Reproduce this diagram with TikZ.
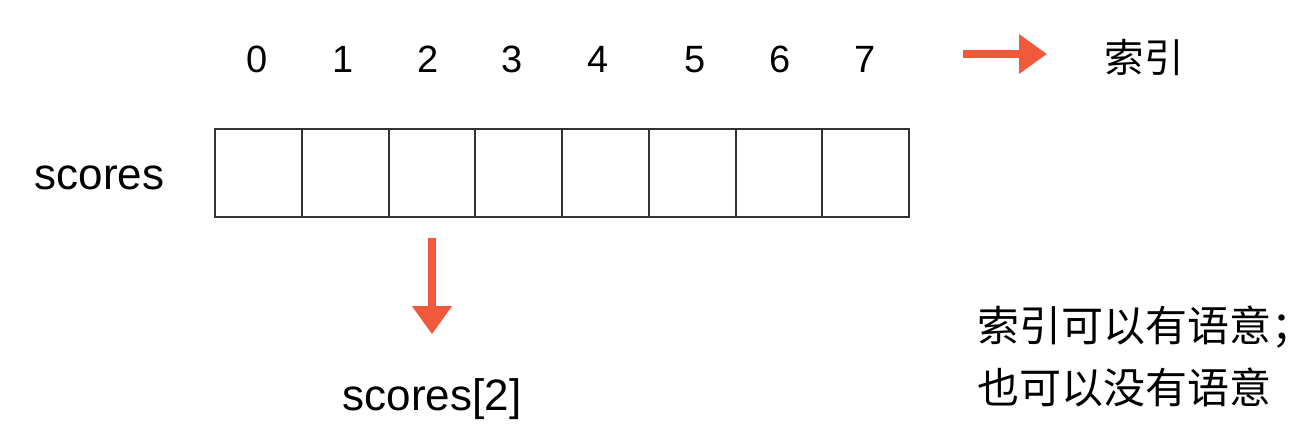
\documentclass[tikz,border=0pt]{standalone}
\usepackage{fontspec}
\setmainfont{Liberation Sans}
\newfontfamily\cjk{Noto Sans CJK SC}
\usetikzlibrary{arrows.meta, positioning}
\definecolor{arrowRed}{RGB}{241,89,60}

\begin{document}
\begin{tikzpicture}[x=0.5pt, y=-0.5pt]
	\tikzstyle{cell} = [rectangle, minimum width=43.375pt, minimum height=44pt, 
	draw=black!80, line width=1pt, outer sep=0pt, inner sep=0pt]
	\tikzstyle{idx} = [font=\fontsize{19pt}{23pt}\selectfont, anchor=base, inner sep=0pt]
	\tikzstyle{nameText} = [font=\fontsize{22pt}{26pt}\selectfont, anchor=base, inner sep=0pt]
	\tikzstyle{cjkText} = [font=\cjk\fontsize{19.75pt}{31pt}\selectfont, inner sep=0pt]
	\tikzstyle{arrow} = [line width=3.8pt, draw=arrowRed, -{Triangle[length=14pt, width=19pt]}]
	\useasboundingbox (0,0) rectangle (1303,441);
	\node (cell0) [cell] at (258.5,173) {};
	\node (cell1) [cell, right=0pt of cell0] {};
	\node (cell2) [cell, right=0pt of cell1] {};
	\node (cell3) [cell, right=0pt of cell2] {};
	\node (cell4) [cell, right=0pt of cell3] {};
	\node (cell5) [cell, right=0pt of cell4] {};
	\node (cell6) [cell, right=0pt of cell5] {};
	\node (cell7) [cell, right=0pt of cell6] {};
	\node (idx0) [idx] at (257,72) {0};
	\node (idx1) [idx] at (343,72) {1};
	\node (idx2) [idx] at (428,72) {2};
	\node (idx3) [idx] at (512,72) {3};
	\node (idx4) [idx] at (598,72) {4};
	\node (idx5) [idx] at (695,72) {5};
	\node (idx6) [idx] at (780,72) {6};
	\node (idx7) [idx] at (865,72) {7};
	\node (arrayName) [nameText] at (99.5,189) {scores};
	\node (element) [nameText] at (432,410) {scores[2]};
	\node (indexTerm) [cjkText, anchor=base] at (1144,72) {索引};
	% the full-width semicolon is boxed narrow so the node stays inside the page
	\node (note) [cjkText, font=\cjk\fontsize{21pt}{31pt}\selectfont, anchor=west, align=left] 
	at (977,356) {索引可以有语意\makebox[0.45em][l]{；}\\也可以没有语意};
	\coordinate (indexTail) at (963,54);
	\coordinate (indexHead) at (1047,54);
	\draw [arrow] (indexTail) -- (indexHead);
	\draw [arrow, shorten <=10.5pt, shorten >=21.75pt] (cell2.south) -- (element.north);
\end{tikzpicture}
\end{document}
